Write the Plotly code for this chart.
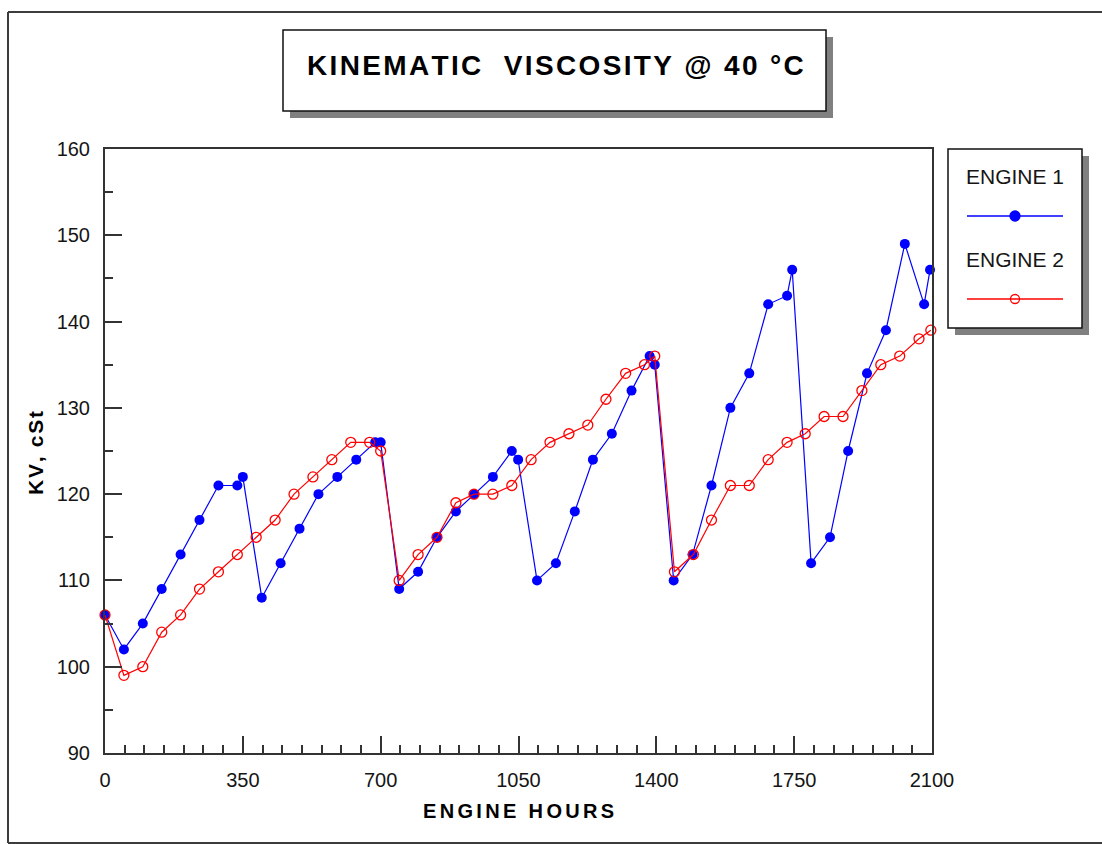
import plotly.graph_objects as go

# ---------------- data ----------------
hours_e1 = [0, 48, 96, 144, 192, 240, 288, 336, 350, 398, 446, 494, 542, 590, 638,
            686, 700, 747, 795, 843, 891, 937, 985, 1033, 1049, 1097, 1145, 1193,
            1239, 1287, 1337, 1383, 1396, 1444, 1492, 1540, 1588, 1636, 1684, 1732,
            1745, 1793, 1841, 1887, 1935, 1983, 2031, 2080, 2095]
kv_e1 = [106, 102, 105, 109, 113, 117, 121, 121, 122, 108, 112, 116, 120, 122, 124,
         126, 126, 109, 111, 115, 118, 120, 122, 125, 124, 110, 112, 118,
         124, 127, 132, 136, 135, 110, 113, 121, 130, 134, 142, 143,
         146, 112, 115, 125, 134, 139, 149, 142, 146]

hours_e2 = [0, 48, 96, 144, 192, 240, 288, 336, 384, 432, 480, 528, 576, 624, 672,
            700, 747, 795, 843, 891, 937, 985, 1033, 1082, 1130, 1178, 1226, 1272,
            1322, 1370, 1396, 1446, 1494, 1540, 1588, 1636, 1684, 1732, 1778, 1826,
            1874, 1922, 1970, 2018, 2067, 2097]
kv_e2 = [106, 99, 100, 104, 106, 109, 111, 113, 115, 117, 120, 122, 124, 126, 126,
         125, 110, 113, 115, 119, 120, 120, 121, 124, 126, 127, 128, 131,
         134, 135, 136, 111, 113, 117, 121, 121, 124, 126, 127, 129,
         129, 132, 135, 136, 138, 139]

x_ticks = [0, 350, 700, 1050, 1400, 1750, 2100]
y_ticks = [90, 100, 110, 120, 130, 140, 150, 160]
series_names = ["ENGINE 1", "ENGINE 2"]
series_colors = ["#0000ff", "#ff0000"]
TITLE = "KINEMATIC  VISCOSITY @ 40 °C"
X_TITLE = "ENGINE HOURS"
Y_TITLE = "KV, cSt"

# ---------------- helpers ----------------
FW, FH = 1102, 844
L, R, T, B = 105, 932, 149, 753   # plot area in screen pixels
FONT = "Liberation Sans, Arial, Helvetica, sans-serif"
INK = "#151515"
AX = "#333333"


def fx(px):
    return px / FW


def fy(py):
    return 1 - py / FH


def spaced(s, gap="\u200a"):
    chars = ["\u00a0" if c == " " else c for c in s]
    return gap.join(chars)


fig = go.Figure()

fig.add_trace(go.Scatter(
    x=hours_e1, y=kv_e1, mode="lines+markers", name=series_names[0],
    line=dict(color=series_colors[0], width=1.2),
    marker=dict(color=series_colors[0], size=10, symbol="circle"),
    cliponaxis=False, showlegend=False))
fig.add_trace(go.Scatter(
    x=hours_e2, y=kv_e2, mode="lines+markers", name=series_names[1],
    line=dict(color=series_colors[1], width=1.2),
    marker=dict(color=series_colors[1], size=10, symbol="circle-open",
                line=dict(width=1.3, color=series_colors[1])),
    cliponaxis=False, showlegend=False))

# legend samples on an overlay axis pair placed in the legend box (pixel units)
leg_rows = [216, 299]
leg_symbols = ["circle", "circle-open"]
for i in range(2):
    fig.add_trace(go.Scatter(
        x=[967, 1063], y=[leg_rows[i]] * 2, mode="lines",
        line=dict(color=series_colors[i], width=1.3),
        xaxis="x2", yaxis="y2", showlegend=False, hoverinfo="skip"))
    fig.add_trace(go.Scatter(
        x=[1015], y=[leg_rows[i]], mode="markers",
        marker=dict(color=series_colors[i], size=10 if i == 0 else 9,
                    symbol=leg_symbols[i],
                    line=dict(width=1.3, color=series_colors[i])),
        xaxis="x2", yaxis="y2", showlegend=False, hoverinfo="skip"))

axis_common = dict(
    ticks="inside", ticklen=17, tickwidth=1.5, tickcolor=AX,
    showline=True, linecolor=AX, linewidth=2, mirror=True,
    showgrid=False, zeroline=False,
    tickfont=dict(family=FONT, size=20, color=INK),
)

frame = dict(color="#3c3c3c", width=2)
shapes = [
    # outer page frame (left, top, bottom; open to the right edge)
    dict(type="line", xref="paper", yref="paper", x0=fx(8), x1=fx(8),
         y0=fy(843), y1=fy(12), line=frame, layer="below"),
    dict(type="line", xref="paper", yref="paper", x0=fx(8), x1=fx(1104),
         y0=fy(12), y1=fy(12), line=frame, layer="below"),
    dict(type="line", xref="paper", yref="paper", x0=fx(8), x1=fx(1104),
         y0=fy(843), y1=fy(843), line=frame, layer="below"),
    # title box shadow + box
    dict(type="rect", xref="paper", yref="paper", x0=fx(290), x1=fx(833),
         y0=fy(118), y1=fy(37), line=dict(width=0), fillcolor="#808080",
         layer="below"),
    dict(type="rect", xref="paper", yref="paper", x0=fx(283), x1=fx(826),
         y0=fy(111), y1=fy(30), line=dict(width=1.5, color="#111111"),
         fillcolor="#ffffff", layer="below"),
    # legend box shadow + box
    dict(type="rect", xref="paper", yref="paper", x0=fx(955), x1=fx(1089),
         y0=fy(335), y1=fy(156), line=dict(width=0), fillcolor="#808080",
         layer="below"),
    dict(type="rect", xref="paper", yref="paper", x0=fx(948), x1=fx(1082),
         y0=fy(328), y1=fy(149), line=dict(width=1.5, color="#111111"),
         fillcolor="#ffffff", layer="below"),
]

annotations = [
    dict(text=spaced(TITLE), x=fx(555), y=fy(66), xref="paper", yref="paper",
         xanchor="center", yanchor="middle", showarrow=False,
         font=dict(family=FONT, size=28, color="#000000", weight="bold")),
    dict(text=spaced(X_TITLE, "\u200a\u200a"), x=fx(518), y=fy(811),
         xref="paper", yref="paper",
         xanchor="center", yanchor="middle", showarrow=False,
         font=dict(family=FONT, size=20, color="#000000", weight="bold")),
    dict(text=spaced(Y_TITLE), x=fx(35), y=fy(453), xref="paper", yref="paper",
         xanchor="center", yanchor="middle", showarrow=False, textangle=-90,
         font=dict(family=FONT, size=21, color="#000000", weight="bold")),
    dict(text=series_names[0], x=fx(1015), y=fy(177), xref="paper", yref="paper",
         xanchor="center", yanchor="middle", showarrow=False,
         font=dict(family=FONT, size=21, color=INK)),
    dict(text=series_names[1], x=fx(1015), y=fy(260), xref="paper", yref="paper",
         xanchor="center", yanchor="middle", showarrow=False,
         font=dict(family=FONT, size=21, color=INK)),
]

fig.update_layout(
    width=FW, height=FH,
    margin=dict(l=0, r=0, t=0, b=0, autoexpand=False),
    paper_bgcolor="#ffffff", plot_bgcolor="rgba(0,0,0,0)",
    showlegend=False,
    xaxis=dict(domain=[fx(L), fx(R)], range=[0, 2100], tickvals=x_ticks,
               ticklabelstandoff=8,
               minor=dict(ticks="inside", ticklen=8, tickwidth=1.5,
                          tickcolor=AX, dtick=50, tick0=0, showgrid=False),
               automargin=False, **axis_common),
    yaxis=dict(domain=[fy(B), fy(T)], range=[90, 160], tickvals=y_ticks,
               ticklabelstandoff=9,
               minor=dict(ticks="inside", ticklen=8, tickwidth=1.5,
                          tickcolor=AX, dtick=5, tick0=90, showgrid=False),
               automargin=False, **axis_common),
    xaxis2=dict(domain=[fx(948), fx(1082)], range=[948, 1082], visible=False,
                anchor="y2", fixedrange=True),
    yaxis2=dict(domain=[fy(328), fy(149)], range=[328, 149], visible=False,
                anchor="x2", fixedrange=True),
    shapes=shapes,
    annotations=annotations,
)

# place the figure flush with the window (no page margin, no scrollbars)
page_css = ("document.documentElement.style.overflow='hidden';"
            "document.body.style.margin='0';"
            "document.body.style.overflow='hidden';")

fig.write_html("out.html", post_script=page_css,
               config={"displayModeBar": False})
